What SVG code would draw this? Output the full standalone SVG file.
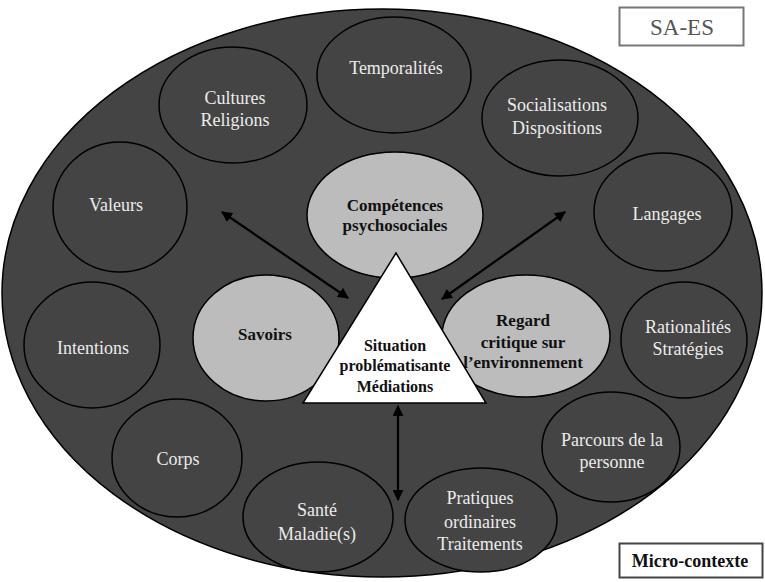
<svg xmlns="http://www.w3.org/2000/svg" width="765" height="582" viewBox="0 0 765 582">
<style>
.dk{fill:#444444;stroke:#000;stroke-width:1.5}
.lt{fill:#bcbcbc;stroke:#000;stroke-width:1.5}
.wt{font-family:"Liberation Serif","Times New Roman",Times,serif;font-size:18px;fill:#ececec;text-anchor:middle}
.bk{font-family:"Liberation Serif","Times New Roman",Times,serif;font-size:17px;font-weight:bold;fill:#111;text-anchor:middle}
.ar{stroke:#000;stroke-width:2.2;fill:none;marker-start:url(#ah);marker-end:url(#ah)}
</style>
<defs>
<marker id="ah" viewBox="0 0 10 10" refX="9" refY="5" markerWidth="5" markerHeight="5" orient="auto-start-reverse">
<path d="M0,0 L10,5 L0,10 z" fill="#000"/>
</marker>
</defs>
<rect width="765" height="582" fill="#fff"/>
<g id="micro-contexte-bg">
<ellipse cx="382" cy="293" rx="380" ry="284" class="dk"/>
</g>
<g id="temporalites"><ellipse cx="394" cy="75" rx="77" ry="58" class="dk"/><text x="396" y="74" class="wt">Temporalités</text></g>
<g id="cultures"><ellipse cx="233" cy="105" rx="74" ry="58" class="dk"/><text x="235" y="104" class="wt">Cultures</text><text x="235" y="126" class="wt">Religions</text></g>
<g id="valeurs"><ellipse cx="120" cy="207" rx="67" ry="65" class="dk"/><text x="116" y="211" class="wt">Valeurs</text></g>
<g id="intentions"><ellipse cx="92" cy="345" rx="68" ry="63" class="dk"/><text x="93" y="354" class="wt">Intentions</text></g>
<g id="corps"><ellipse cx="177" cy="458" rx="65" ry="59" class="dk"/><text x="178" y="465" class="wt">Corps</text></g>
<g id="sante"><ellipse cx="318" cy="517" rx="75" ry="55" class="dk"/><text x="317" y="516" class="wt">Santé</text><text x="317" y="540" class="wt">Maladie(s)</text></g>
<g id="pratiques"><ellipse cx="481" cy="520" rx="76" ry="52" class="dk"/><text x="480" y="504" class="wt">Pratiques</text><text x="480" y="528" class="wt">ordinaires</text><text x="480" y="550" class="wt">Traitements</text></g>
<g id="parcours"><ellipse cx="611" cy="447" rx="69" ry="55" class="dk"/><text x="612" y="446" class="wt">Parcours de la</text><text x="612" y="468" class="wt">personne</text></g>
<g id="rationalites"><ellipse cx="684" cy="340" rx="63" ry="58" class="dk"/><text x="688" y="333" class="wt">Rationalités</text><text x="688" y="355" class="wt">Stratégies</text></g>
<g id="langages"><ellipse cx="663" cy="212" rx="69" ry="59" class="dk"/><text x="667" y="220" class="wt">Langages</text></g>
<g id="socialisations"><ellipse cx="560" cy="118" rx="78" ry="58" class="dk"/><text x="557" y="111" class="wt">Socialisations</text><text x="557" y="134" class="wt">Dispositions</text></g>
<g id="competences"><ellipse cx="395" cy="215" rx="88" ry="63" class="lt"/><text x="395" y="211" class="bk">Compétences</text><text x="395" y="231" class="bk">psychosociales</text></g>
<g id="savoirs"><ellipse cx="266" cy="338" rx="73" ry="63" class="lt"/><text x="265" y="340" class="bk">Savoirs</text></g>
<g id="regard"><ellipse cx="526" cy="336" rx="84" ry="61" class="lt"/><text x="523" y="326" class="bk">Regard</text><text x="523" y="348" class="bk">critique sur</text><text x="523" y="368" class="bk">l’environnement</text></g>
<g id="situation"><polygon points="396,253 303,403 486,403" fill="#fff" stroke="#000" stroke-width="1.5"/><text x="395" y="351" class="bk" style="font-size:16px">Situation</text><text x="395" y="371" class="bk" style="font-size:16px">problématisante</text><text x="395" y="392" class="bk" style="font-size:16px">Médiations</text></g>
<g id="connectors">
<line x1="222" y1="212" x2="348" y2="298" class="ar"/>
<line x1="565" y1="212" x2="442" y2="299" class="ar"/>
<line x1="398" y1="406" x2="398" y2="500" class="ar"/>
</g>
<g id="sa-es"><rect x="619.5" y="7.5" width="124" height="38" fill="#fff" stroke="#777" stroke-width="2"/><text x="682" y="35" style="font-family:'Liberation Serif','Times New Roman',serif;font-size:23px;fill:#555;text-anchor:middle">SA-ES</text></g>
<g id="micro-contexte"><rect x="619.5" y="543.5" width="143" height="34" fill="#fff" stroke="#444" stroke-width="2"/><text x="690" y="567" style="font-family:'Liberation Serif','Times New Roman',serif;font-size:18px;font-weight:bold;fill:#111;text-anchor:middle">Micro-contexte</text></g>
</svg>
